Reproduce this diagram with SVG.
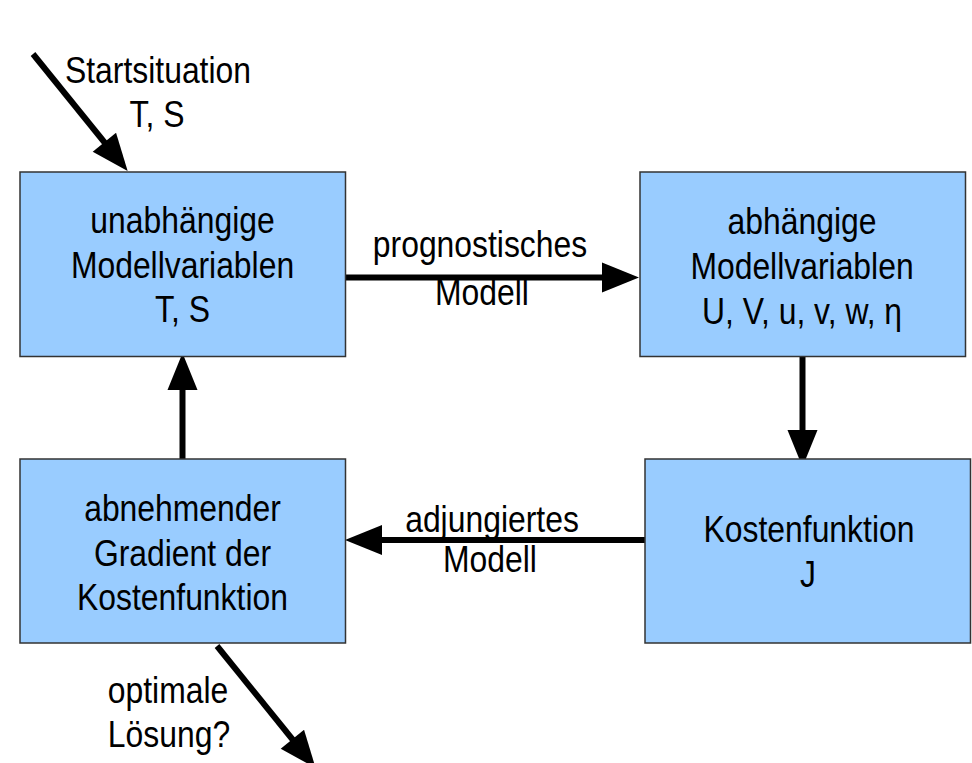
<svg xmlns="http://www.w3.org/2000/svg" width="972" height="763" viewBox="0 0 972 763">
<style>
.box{fill:#99ccff;stroke:#333333;stroke-width:1.5}
.t{font-family:"Liberation Sans",Arial,sans-serif;font-size:37.5px;fill:#000;text-anchor:middle}
.c{stroke:#000;stroke-width:6;fill:none}
</style>
<defs>
<marker id="ah" markerUnits="userSpaceOnUse" markerWidth="38" markerHeight="30" refX="0" refY="15" orient="auto" overflow="visible">
<path d="M-1,0 L36,15 L-1,30 z" fill="#000"/>
</marker>
</defs>
<rect width="972" height="763" fill="#fff"/>
<g id="connectors">
<path class="c" d="M33,54 L105,143" marker-end="url(#ah)"/>
<text class="t" transform="translate(158,83) scale(0.85,1)">Startsituation</text>
<text class="t" transform="translate(157,127) scale(0.85,1)">T, S</text>
<path class="c" d="M346,277.5 L603,277.5" marker-end="url(#ah)"/>
<text class="t" transform="translate(480,257) scale(0.85,1)">prognostisches</text>
<text class="t" transform="translate(482,305) scale(0.85,1)">Modell</text>
<path class="c" d="M802.5,357 L802.5,431" marker-end="url(#ah)"/>
<path class="c" d="M645,540 L381,540" marker-end="url(#ah)"/>
<text class="t" transform="translate(492,532) scale(0.85,1)">adjungiertes</text>
<text class="t" transform="translate(490,572) scale(0.85,1)">Modell</text>
<path class="c" d="M182.5,459 L182.5,389" marker-end="url(#ah)"/>
<path class="c" d="M217,646 L293,740" marker-end="url(#ah)"/>
<text class="t" transform="translate(168,703) scale(0.85,1)">optimale</text>
<text class="t" transform="translate(169,747) scale(0.85,1)">Lösung?</text>
</g>
<g id="n1">
<rect class="box" x="20" y="172" width="325.5" height="184.5"/>
<text class="t" transform="translate(182.5,233) scale(0.85,1)">unabhängige</text>
<text class="t" transform="translate(182.5,278) scale(0.85,1)">Modellvariablen</text>
<text class="t" transform="translate(182.5,322) scale(0.85,1)">T, S</text>
</g>
<g id="n2">
<rect class="box" x="640" y="172" width="325.5" height="184.5"/>
<text class="t" transform="translate(802,234) scale(0.85,1)">abhängige</text>
<text class="t" transform="translate(802,279) scale(0.85,1)">Modellvariablen</text>
<text class="t" transform="translate(802,324) scale(0.85,1)">U, V, u, v, w, η</text>
</g>
<g id="n3">
<rect class="box" x="645" y="459" width="325.5" height="184"/>
<text class="t" transform="translate(809,542) scale(0.85,1)">Kostenfunktion</text>
<text class="t" transform="translate(808,587) scale(0.85,1)">J</text>
</g>
<g id="n4">
<rect class="box" x="20" y="459" width="325.5" height="184"/>
<text class="t" transform="translate(182.5,521) scale(0.85,1)">abnehmender</text>
<text class="t" transform="translate(182.5,566) scale(0.85,1)">Gradient der</text>
<text class="t" transform="translate(182.5,610) scale(0.85,1)">Kostenfunktion</text>
</g>
</svg>
